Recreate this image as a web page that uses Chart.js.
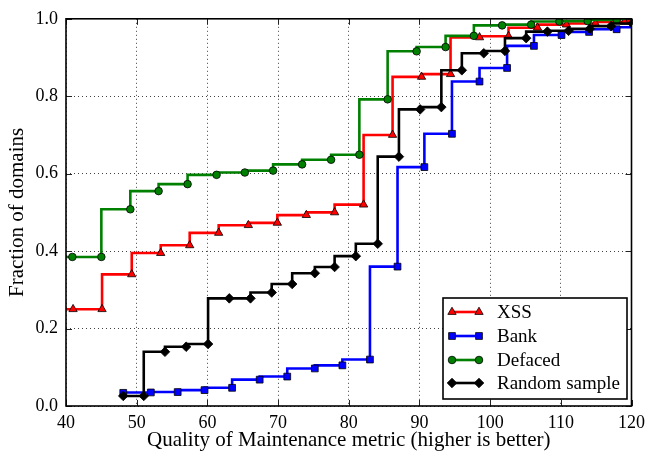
<!DOCTYPE html>
<html lang="en">
  <head>
    <meta charset="UTF-8" />
    <script src="https://cdn.jsdelivr.net/npm/chart.js@4.4.0/dist/chart.umd.min.js"></script>
    <style>
      html, body { margin: 0; padding: 0; background: #fff; }
      #qom_chart { display: block; }
    </style>
  </head>
  <body>
    <canvas id="qom_chart" width="651" height="453"></canvas>
    <script>
      // values (x = metric value of each marker, y = fraction)
      const seriesNames = ["XSS", "Bank", "Defaced", "Random sample"];

      const xssX = [37.0, 41.0, 45.1, 49.3, 53.4, 57.5, 61.6, 65.8, 69.9, 74.0, 78.0,
        82.1, 86.2, 90.3, 94.4, 98.5, 102.6, 106.7, 110.8, 114.9, 119.0, 123.0];
      const xssY = [0.25, 0.25, 0.25, 0.34, 0.395, 0.415, 0.447, 0.467, 0.473, 0.493, 0.50,
        0.52, 0.70, 0.85, 0.857, 0.952, 0.955, 0.977, 0.985, 0.988, 0.992, 0.995];

      const bankX = [48.1, 52.0, 55.8, 59.6, 63.5, 67.4, 71.3, 75.2, 79.1, 83.0,
        86.9, 90.7, 94.6, 98.5, 102.4, 106.2, 110.1, 114.0, 117.9, 121.8];
      const bankY = [0.034, 0.035, 0.036, 0.041, 0.047, 0.068, 0.076, 0.097, 0.105, 0.12,
        0.36, 0.617, 0.703, 0.838, 0.873, 0.93, 0.958, 0.966, 0.973, 0.978];

      const defacedX = [36.9, 40.9, 45.0, 49.1, 53.1, 57.2, 61.3, 65.3, 69.3, 73.4, 77.5,
        81.5, 85.5, 89.6, 93.7, 97.7, 101.7, 105.8, 109.8, 113.8, 117.9, 121.9];
      const defacedY = [0.385, 0.385, 0.385, 0.508, 0.555, 0.573, 0.597, 0.603, 0.608, 0.624, 0.636,
        0.649, 0.792, 0.916, 0.927, 0.956, 0.983, 0.985, 0.993, 0.994, 0.997, 1.0];

      const randomX = [48.1, 51.0, 54.0, 57.0, 60.1, 63.1, 66.1, 69.1, 72.0, 75.2, 78.0, 81.0,
        84.1, 87.1, 90.1, 93.1, 96.0, 99.1, 102.1, 105.1, 108.1, 111.1, 114.1, 117.1, 120.1];
      const randomY = [0.026, 0.026, 0.14, 0.153, 0.16, 0.278, 0.278, 0.293, 0.315, 0.343, 0.359, 0.387,
        0.419, 0.644, 0.766, 0.772, 0.867, 0.911, 0.917, 0.95, 0.967, 0.969, 0.974, 0.981, 0.988];

      const xTicks = [40, 50, 60, 70, 80, 90, 100, 110, 120];
      const yTicks = [0.0, 0.2, 0.4, 0.6, 0.8, 1.0];

      const xTitle = "Quality of Maintenance metric (higher is better)";
      const yTitle = "Fraction of domains";

      const toPoints = (xs, ys) => xs.map((x, i) => ({ x: x, y: ys[i] }));

      const styles = [
        { color: "#ff0000", marker: "triangle", radius: 4.8 },
        { color: "#0000ff", marker: "rect", radius: 4.8 },
        { color: "#008000", marker: "circle", radius: 3.8 },
        { color: "#000000", marker: "rectRot", radius: 4.8 },
      ];
      const allPoints = [
        toPoints(xssX, xssY),
        toPoints(bankX, bankY),
        toPoints(defacedX, defacedY),
        toPoints(randomX, randomY),
      ];

      const datasets = seriesNames.map((name, i) => ({
        label: name,
        data: allPoints[i],
        borderColor: styles[i].color,
        backgroundColor: styles[i].color,
        borderWidth: 2.6,
        stepped: "after",
        fill: false,
        pointStyle: styles[i].marker,
        pointRadius: styles[i].radius,
        pointBackgroundColor: styles[i].color,
        pointBorderColor: "#000",
        pointBorderWidth: 0.8,
        clip: 0,
        order: seriesNames.length - i,
      }));

      // draws one legend marker the same way chart.js does
      function drawMarker(ctx, style, x, y, r) {
        ctx.beginPath();
        if (style === "circle") {
          ctx.arc(x, y, r, 0, Math.PI * 2);
        } else if (style === "rect") {
          const s = r * Math.SQRT1_2;
          ctx.rect(x - s, y - s, 2 * s, 2 * s);
        } else if (style === "rectRot") {
          ctx.moveTo(x, y - r);
          ctx.lineTo(x + r, y);
          ctx.lineTo(x, y + r);
          ctx.lineTo(x - r, y);
          ctx.closePath();
        } else {
          let a = 0;
          for (let k = 0; k < 3; k++) {
            const px = x + Math.sin(a) * r, py = y - Math.cos(a) * r;
            k === 0 ? ctx.moveTo(px, py) : ctx.lineTo(px, py);
            a += (2 * Math.PI) / 3;
          }
          ctx.closePath();
        }
        ctx.fill();
        ctx.stroke();
      }

      const framePlugin = {
        id: "frame",
        afterDraw(chart) {
          const ctx = chart.ctx;
          const a = chart.chartArea;
          const xs = chart.scales.x, ys = chart.scales.y;
          ctx.save();
          ctx.setLineDash([]);
          // inward ticks on all four sides
          ctx.strokeStyle = "#222";
          ctx.lineWidth = 1;
          ctx.beginPath();
          xTicks.forEach((v) => {
            const p = Math.round(xs.getPixelForValue(v)) + 0.5;
            ctx.moveTo(p, a.bottom); ctx.lineTo(p, a.bottom - 6);
            ctx.moveTo(p, a.top); ctx.lineTo(p, a.top + 6);
          });
          yTicks.forEach((v) => {
            const p = Math.round(ys.getPixelForValue(v)) + 0.5;
            ctx.moveTo(a.left, p); ctx.lineTo(a.left + 6, p);
            ctx.moveTo(a.right, p); ctx.lineTo(a.right - 6, p);
          });
          ctx.stroke();
          // axes frame
          ctx.strokeStyle = "#000";
          ctx.lineWidth = 1.6;
          ctx.strokeRect(a.left, a.top, a.right - a.left, a.bottom - a.top);

          // legend box, lower right
          const bx = 443, by = 298, bw = 184, bh = 101;
          ctx.fillStyle = "#fff";
          ctx.fillRect(bx, by, bw, bh);
          ctx.lineWidth = 1.6;
          ctx.strokeRect(bx, by, bw, bh);
          const rowY = [312, 336, 360, 383];
          ctx.font = "19px 'Liberation Serif'";
          ctx.textBaseline = "middle";
          ctx.textAlign = "left";
          seriesNames.forEach((name, i) => {
            const st = styles[i];
            ctx.strokeStyle = st.color;
            ctx.lineWidth = 2.6;
            ctx.beginPath();
            ctx.moveTo(452, rowY[i]);
            ctx.lineTo(479, rowY[i]);
            ctx.stroke();
            ctx.fillStyle = st.color;
            ctx.strokeStyle = "#000";
            ctx.lineWidth = 0.8;
            drawMarker(ctx, st.marker, 452, rowY[i], st.radius);
            drawMarker(ctx, st.marker, 479, rowY[i], st.radius);
            ctx.fillStyle = "#000";
            ctx.fillText(name, 497, rowY[i] + 1);
          });
          ctx.restore();
        },
      };

      Chart.defaults.font.family = "'Liberation Serif', serif";
      Chart.defaults.color = "#000";

      const config = {
        type: "line",
        data: { datasets: datasets },
        options: {
          responsive: false,
          animation: false,
          devicePixelRatio: 1,
          layout: { padding: { top: 15, right: 17, left: 0, bottom: 0 } },
          plugins: {
            legend: { display: false },
            tooltip: { enabled: false },
          },
          scales: {
            x: {
              type: "linear",
              min: 40,
              max: 120,
              afterFit: (s) => { s.height = 47; },
              afterBuildTicks: (s) => { s.ticks = xTicks.map((v) => ({ value: v })); },
              ticks: { font: { size: 18 }, padding: 6, maxRotation: 0 },
              grid: { color: "rgba(0,0,0,0.75)", lineWidth: 1, drawTicks: false, borderDash: [1, 3] },
              border: { display: false, dash: [1, 3] },
              title: { display: true, text: xTitle, font: { size: 21 }, padding: { top: 0, bottom: 0 } },
            },
            y: {
              min: 0,
              max: 1,
              afterFit: (s) => { s.width = 66; },
              afterBuildTicks: (s) => { s.ticks = yTicks.map((v) => ({ value: v })); },
              ticks: { font: { size: 18 }, padding: 8, callback: (v) => v.toFixed(1) },
              grid: { color: "rgba(0,0,0,0.75)", lineWidth: 1, drawTicks: false, borderDash: [1, 3] },
              border: { display: false, dash: [1, 3] },
              title: { display: true, text: yTitle, font: { size: 21 }, padding: { top: 5, bottom: 0 } },
            },
          },
        },
        plugins: [framePlugin],
      };

      new Chart(document.getElementById("qom_chart"), config);
    </script>
  </body>
</html>
